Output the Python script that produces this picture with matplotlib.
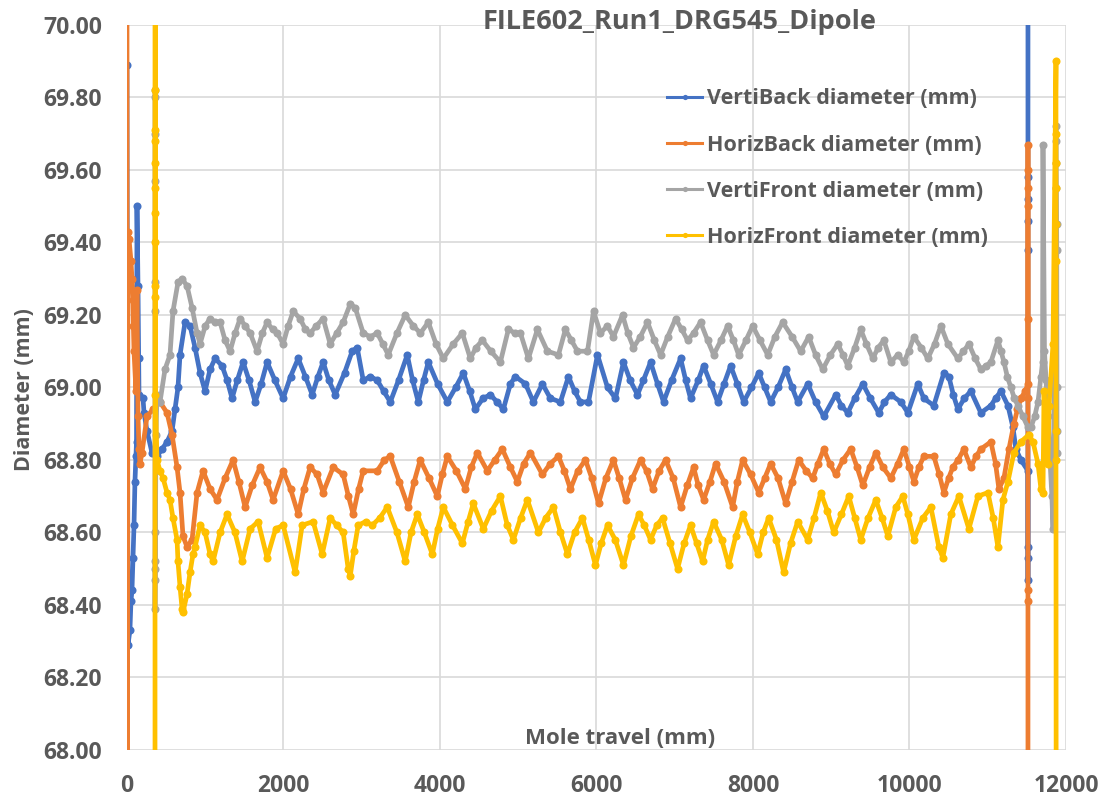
import matplotlib
matplotlib.use('Agg')
import matplotlib.pyplot as plt
from matplotlib.ticker import FormatStrFormatter, MultipleLocator

# text style (Excel-like bold grey)
TXT = '#595959'
GRID = '#D9D9D9'
plt.rcParams['font.family'] = ['Open Sans', 'DejaVu Sans']

title = 'FILE602_Run1_DRG545_Dipole'
xlabel = 'Mole travel (mm)'
ylabel = 'Diameter (mm)'
names = ['VertiBack diameter (mm)', 'HorizBack diameter (mm)',
         'VertiFront diameter (mm)', 'HorizFront diameter (mm)']
colours = ['#4472C4', '#ED7D31', '#A5A5A5', '#FFC000']

# (mole travel mm, diameter mm)
verti_back = [
    (0, 69.89), (13, 68.29), (38, 68.33), (51, 68.41), (64, 68.44), (77, 68.53), (90, 68.62),
    (102, 68.74), (115, 68.81), (122, 68.85), (128, 69.50), (141, 69.28), (150, 69.08),
    (154, 68.98), (205, 68.97), (218, 68.93), (256, 68.88), (320, 68.82), (384, 68.81),
    (448, 68.83), (512, 68.85), (576, 68.88), (614, 68.94), (652, 69.00), (678, 69.09),
    (742, 69.18), (806, 69.17), (870, 69.11), (934, 69.04), (998, 68.99), (1062, 69.05),
    (1126, 69.08), (1215, 69.06), (1280, 69.02), (1343, 68.97), (1410, 69.02), (1484, 69.07),
    (1560, 69.02), (1638, 68.96), (1715, 69.01), (1791, 69.07), (1890, 69.02), (1996, 68.97),
    (2090, 69.03), (2188, 69.08), (2280, 69.03), (2367, 68.98), (2440, 69.03), (2507, 69.07),
    (2580, 69.02), (2661, 68.98), (2780, 69.04), (2878, 69.10), (2942, 69.11), (3019, 69.02),
    (3110, 69.03), (3198, 69.02), (3280, 68.99), (3365, 68.96), (3470, 69.02), (3582, 69.09),
    (3650, 69.02), (3723, 68.96), (3790, 69.02), (3851, 69.07), (3970, 69.01), (4094, 68.96),
    (4200, 69.00), (4298, 69.04), (4380, 68.99), (4452, 68.94), (4550, 68.97), (4644, 68.98),
    (4730, 68.96), (4810, 68.94), (4900, 69.01), (4964, 69.03), (5092, 69.01), (5194, 68.96),
    (5309, 69.01), (5411, 68.97), (5539, 68.96), (5642, 69.03), (5720, 68.99), (5795, 68.96),
    (5898, 68.96), (6013, 69.09), (6141, 69.00), (6243, 68.97), (6345, 69.07), (6430, 69.02),
    (6524, 68.98), (6600, 69.02), (6691, 69.07), (6780, 69.01), (6857, 68.96), (6960, 69.02),
    (7075, 69.08), (7140, 69.02), (7202, 68.97), (7300, 69.02), (7369, 69.06), (7460, 69.01),
    (7548, 68.96), (7630, 69.01), (7714, 69.06), (7800, 69.01), (7881, 68.96), (7980, 69.00),
    (8073, 69.04), (8150, 69.00), (8226, 68.96), (8320, 69.00), (8418, 69.05), (8500, 69.00),
    (8571, 68.96), (8699, 69.01), (8800, 68.96), (8904, 68.92), (9057, 68.98), (9130, 68.95),
    (9211, 68.93), (9300, 68.97), (9403, 69.01), (9500, 68.97), (9607, 68.93), (9680, 68.96),
    (9761, 68.98), (9890, 68.96), (9979, 68.93), (10106, 69.01), (10183, 68.97), (10311, 68.95),
    (10439, 69.04), (10503, 69.03), (10560, 68.98), (10618, 68.94), (10700, 68.97),
    (10784, 68.99), (10912, 68.93), (11040, 68.95), (11100, 68.97), (11168, 68.99),
    (11258, 68.95), (11322, 68.89), (11360, 68.83), (11424, 68.80), (11514, 68.77),
    (11514, 68.56), (11514, 68.53), (11514, 68.47), (11514, 69.38), (11514, 69.46),
    (11514, 69.52), (11514, 69.58), (11514, 71.0),
]

horiz_back = [
    (0, 70.5), (3, 67.5), (13, 69.43), (26, 69.41), (51, 69.35), (64, 69.30), (77, 69.24),
    (82, 69.17), (90, 69.10), (115, 68.99), (128, 69.27), (141, 68.92), (154, 68.83),
    (166, 68.79), (192, 68.82), (256, 68.92), (333, 68.94), (422, 68.96), (512, 68.93),
    (576, 68.87), (640, 68.78), (678, 68.71), (716, 68.59), (768, 68.56), (832, 68.58),
    (896, 68.71), (972, 68.77), (1062, 68.72), (1151, 68.69), (1254, 68.75), (1356, 68.80),
    (1430, 68.74), (1510, 68.67), (1600, 68.73), (1701, 68.78), (1790, 68.74), (1868, 68.69),
    (1996, 68.77), (2090, 68.72), (2188, 68.65), (2260, 68.72), (2341, 68.78), (2430, 68.76),
    (2507, 68.71), (2635, 68.78), (2763, 68.76), (2830, 68.70), (2891, 68.65), (2960, 68.72),
    (3019, 68.77), (3198, 68.77), (3290, 68.80), (3365, 68.81), (3480, 68.74), (3595, 68.67),
    (3670, 68.74), (3748, 68.80), (3860, 68.75), (3966, 68.70), (4030, 68.76), (4094, 68.81),
    (4210, 68.77), (4324, 68.72), (4400, 68.78), (4478, 68.82), (4605, 68.77), (4700, 68.80),
    (4797, 68.83), (4900, 68.78), (4989, 68.74), (5070, 68.79), (5156, 68.82), (5309, 68.76),
    (5410, 68.79), (5514, 68.81), (5590, 68.77), (5667, 68.72), (5760, 68.77), (5859, 68.80),
    (5940, 68.75), (6026, 68.68), (6120, 68.75), (6217, 68.80), (6290, 68.75), (6371, 68.69),
    (6460, 68.75), (6563, 68.80), (6640, 68.77), (6716, 68.72), (6800, 68.77), (6883, 68.80),
    (6980, 68.75), (7075, 68.67), (7160, 68.73), (7241, 68.78), (7300, 68.73), (7369, 68.69),
    (7450, 68.74), (7522, 68.79), (7630, 68.74), (7740, 68.67), (7800, 68.74), (7868, 68.80),
    (7970, 68.76), (8073, 68.71), (8150, 68.75), (8226, 68.79), (8320, 68.75), (8418, 68.68),
    (8500, 68.74), (8584, 68.80), (8680, 68.77), (8763, 68.75), (8830, 68.79), (8904, 68.83),
    (8980, 68.79), (9057, 68.76), (9150, 68.80), (9249, 68.83), (9330, 68.78), (9403, 68.73),
    (9490, 68.78), (9569, 68.82), (9660, 68.78), (9761, 68.75), (9850, 68.79), (9928, 68.83),
    (10000, 68.78), (10056, 68.74), (10120, 68.78), (10183, 68.81), (10311, 68.81),
    (10380, 68.76), (10439, 68.71), (10500, 68.75), (10554, 68.78), (10620, 68.80),
    (10695, 68.83), (10784, 68.78), (10850, 68.81), (10912, 68.83), (11040, 68.85),
    (11100, 68.79), (11143, 68.72), (11207, 68.75), (11271, 68.83), (11335, 68.90),
    (11380, 68.94), (11424, 68.97), (11480, 68.99), (11514, 69.01), (11514, 69.67),
    (11514, 69.60), (11514, 69.55), (11514, 69.50), (11514, 69.19), (11514, 68.97),
    (11514, 68.44), (11514, 68.41), (11514, 67.5),
]

verti_front = [
    (358, 69.82), (358, 69.80), (358, 69.70), (358, 69.57), (358, 69.29), (358, 69.21),
    (358, 68.60), (358, 68.52), (358, 68.50), (358, 68.47), (358, 68.39), (371, 68.87),
    (384, 68.98), (422, 68.96), (486, 69.05), (550, 69.09), (588, 69.21), (652, 69.29),
    (704, 69.30), (768, 69.28), (832, 69.22), (896, 69.15), (934, 69.12), (1000, 69.17),
    (1062, 69.19), (1126, 69.18), (1190, 69.18), (1254, 69.13), (1318, 69.10), (1382, 69.15),
    (1446, 69.19), (1510, 69.17), (1574, 69.15), (1663, 69.10), (1730, 69.15), (1791, 69.18),
    (1860, 69.16), (1920, 69.15), (1996, 69.12), (2060, 69.17), (2124, 69.21), (2213, 69.19),
    (2280, 69.16), (2341, 69.15), (2420, 69.17), (2507, 69.19), (2597, 69.12), (2680, 69.15),
    (2763, 69.18), (2853, 69.23), (2917, 69.22), (3019, 69.15), (3110, 69.14), (3198, 69.15),
    (3270, 69.12), (3339, 69.09), (3450, 69.15), (3556, 69.20), (3659, 69.17), (3750, 69.15),
    (3851, 69.18), (3950, 69.12), (4043, 69.08), (4170, 69.12), (4286, 69.15), (4388, 69.08),
    (4460, 69.11), (4542, 69.13), (4650, 69.10), (4772, 69.07), (4874, 69.16), (4960, 69.15),
    (5028, 69.15), (5130, 69.08), (5245, 69.16), (5373, 69.10), (5514, 69.09), (5603, 69.16),
    (5680, 69.13), (5757, 69.10), (5885, 69.10), (5962, 69.21), (6051, 69.15), (6140, 69.17),
    (6217, 69.14), (6333, 69.20), (6400, 69.15), (6473, 69.11), (6560, 69.14), (6652, 69.18),
    (6740, 69.13), (6819, 69.09), (6910, 69.14), (7011, 69.19), (7090, 69.16), (7164, 69.13),
    (7240, 69.15), (7330, 69.18), (7420, 69.13), (7497, 69.09), (7590, 69.13), (7676, 69.17),
    (7750, 69.13), (7817, 69.09), (7910, 69.13), (7996, 69.17), (8090, 69.13), (8188, 69.09),
    (8280, 69.14), (8379, 69.18), (8500, 69.14), (8610, 69.10), (8712, 69.14), (8800, 69.09),
    (8891, 69.05), (8990, 69.09), (9083, 69.12), (9150, 69.09), (9211, 69.06), (9300, 69.11),
    (9377, 69.16), (9450, 69.12), (9531, 69.08), (9600, 69.11), (9672, 69.13), (9761, 69.07),
    (9850, 69.09), (9928, 69.07), (9990, 69.10), (10056, 69.14), (10150, 69.11),
    (10234, 69.08), (10320, 69.12), (10401, 69.17), (10490, 69.12), (10618, 69.08),
    (10690, 69.10), (10759, 69.12), (10840, 69.08), (10912, 69.05), (10980, 69.06),
    (11040, 69.07), (11130, 69.13), (11170, 69.10), (11207, 69.07), (11250, 69.03),
    (11296, 69.00), (11340, 68.97), (11386, 68.95), (11450, 68.92), (11514, 68.89),
    (11552, 68.89), (11600, 68.92), (11642, 68.96), (11680, 69.03), (11700, 69.07),
    (11706, 69.67), (11725, 69.10), (11745, 69.02), (11770, 68.92), (11795, 68.80),
    (11820, 68.70), (11834, 68.61), (11872, 69.72), (11872, 69.68), (11875, 69.62),
    (11878, 69.55), (11880, 69.45), (11882, 69.38), (11885, 69.00), (11885, 68.88),
    (11885, 68.82),
]

horiz_front = [
    (358, 67.5), (360, 70.5), (362, 69.82), (362, 69.71), (362, 69.68), (362, 69.62),
    (362, 69.55), (362, 69.48), (362, 69.40), (362, 69.28), (362, 69.25), (362, 68.98),
    (384, 68.80), (422, 68.77), (461, 68.75), (512, 68.71), (550, 68.69), (588, 68.64),
    (640, 68.58), (652, 68.52), (678, 68.45), (704, 68.39), (716, 68.38), (768, 68.43),
    (806, 68.49), (844, 68.54), (870, 68.56), (934, 68.62), (998, 68.60), (1062, 68.54),
    (1100, 68.52), (1190, 68.60), (1279, 68.65), (1380, 68.60), (1472, 68.52), (1574, 68.61),
    (1676, 68.63), (1791, 68.53), (1900, 68.61), (1996, 68.62), (2149, 68.49), (2239, 68.62),
    (2379, 68.63), (2495, 68.54), (2597, 68.64), (2680, 68.62), (2763, 68.60), (2827, 68.50),
    (2853, 68.48), (2900, 68.55), (2955, 68.62), (3050, 68.63), (3134, 68.62), (3230, 68.64),
    (3326, 68.67), (3450, 68.60), (3556, 68.52), (3630, 68.60), (3710, 68.65), (3800, 68.60),
    (3902, 68.54), (3970, 68.61), (4043, 68.67), (4160, 68.62), (4286, 68.57), (4360, 68.63),
    (4426, 68.68), (4554, 68.61), (4660, 68.66), (4772, 68.70), (4860, 68.62), (4938, 68.58),
    (5030, 68.64), (5117, 68.69), (5258, 68.60), (5350, 68.64), (5450, 68.67), (5540, 68.60),
    (5629, 68.54), (5720, 68.60), (5821, 68.64), (5900, 68.58), (5987, 68.51), (6060, 68.57),
    (6141, 68.62), (6240, 68.58), (6345, 68.51), (6440, 68.59), (6537, 68.65), (6610, 68.62),
    (6691, 68.58), (6770, 68.62), (6844, 68.64), (6940, 68.57), (7036, 68.50), (7120, 68.57),
    (7202, 68.62), (7280, 68.57), (7356, 68.52), (7420, 68.58), (7497, 68.63), (7600, 68.58),
    (7689, 68.51), (7780, 68.59), (7868, 68.65), (7960, 68.60), (8060, 68.54), (8130, 68.60),
    (8200, 68.64), (8300, 68.58), (8392, 68.49), (8480, 68.57), (8571, 68.63), (8699, 68.58),
    (8780, 68.64), (8866, 68.71), (8950, 68.66), (9032, 68.60), (9130, 68.65), (9224, 68.70),
    (9300, 68.64), (9377, 68.58), (9470, 68.64), (9569, 68.69), (9650, 68.64), (9723, 68.59),
    (9825, 68.67), (9915, 68.70), (9979, 68.65), (10056, 68.58), (10170, 68.64),
    (10273, 68.67), (10375, 68.56), (10426, 68.53), (10528, 68.65), (10631, 68.70),
    (10759, 68.61), (10874, 68.70), (11002, 68.71), (11070, 68.64), (11130, 68.56),
    (11194, 68.69), (11258, 68.74), (11335, 68.82), (11424, 68.85), (11526, 68.87),
    (11578, 68.85), (11642, 68.79), (11680, 68.72), (11706, 68.71), (11719, 68.99),
    (11745, 68.85), (11770, 68.79), (11783, 68.95), (11834, 69.12), (11872, 69.90),
    (11872, 69.70), (11872, 69.62), (11872, 69.55), (11872, 69.45), (11872, 69.35),
    (11872, 68.88), (11872, 68.80), (11875, 67.5),
]

series = [verti_back, horiz_back, verti_front, horiz_front]

fig = plt.figure(figsize=(11.05, 7.98), dpi=100)
ax = fig.add_axes([0.1149, 0.0602, 0.8498, 0.9085])

lines = []
for data, name, col in zip(series, names, colours):
    xs = [p[0] for p in data]
    ys = [p[1] for p in data]
    ln, = ax.plot(xs, ys, color=col, lw=3.4, marker='o', ms=5.8,
                  markeredgewidth=0, label=name, zorder=3)
    lines.append(ln)

ax.set_xlim(0, 12000)
ax.set_ylim(68.0, 70.0)
ax.xaxis.set_major_locator(MultipleLocator(2000))
ax.yaxis.set_major_locator(MultipleLocator(0.2))
ax.yaxis.set_major_formatter(FormatStrFormatter('%.2f'))
ax.grid(True, color=GRID, lw=1.2, zorder=0)
ax.set_axisbelow(True)
for s in ax.spines.values():
    s.set_visible(False)
ax.tick_params(length=0, labelsize=16.5, labelcolor=TXT)
ax.tick_params(axis='x', pad=17.5)
ax.tick_params(axis='y', pad=18)
for lab in ax.get_xticklabels() + ax.get_yticklabels():
    lab.set_fontweight('bold')

# titles sit inside the plot area, as in the Excel original
fig.text(680 / 1105, 1 - 22 / 798, title, ha='center', va='center',
         fontsize=19.5, fontweight='bold', color=TXT)
fig.text(620 / 1105, 1 - 738 / 798, xlabel, ha='center', va='center',
         fontsize=16, fontweight='bold', color=TXT)
fig.text(25 / 1105, 1 - 390 / 798, ylabel, ha='center', va='center',
         rotation=90, fontsize=15.5, fontweight='bold', color=TXT)

leg = ax.legend(handles=lines, loc='upper left',
                bbox_to_anchor=(648 / 1105, 1 - 69 / 798),
                bbox_transform=fig.transFigure, frameon=False,
                prop={'weight': 'bold', 'size': 15.5}, labelcolor=TXT,
                handlelength=1.6, handletextpad=0.25, labelspacing=1.17,
                markerscale=0.65)
for h in leg.legend_handles:
    h.set_linewidth(2.2)

fig.savefig('out.png', dpi=100)
